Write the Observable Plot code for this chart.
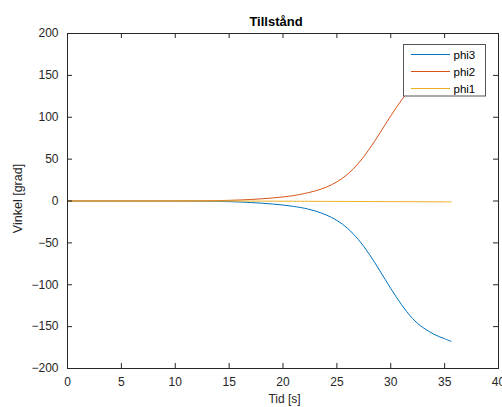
<!DOCTYPE html>
<html><head><meta charset="utf-8">
<script src="https://cdn.jsdelivr.net/npm/d3@7"></script>
<script src="https://cdn.jsdelivr.net/npm/@observablehq/plot@0.6"></script>
<style>body{margin:0;background:#fff;}</style>
</head><body><div id="chart"></div>
<script>
const time = [0, 2, 4, 6, 8, 10, 12, 14, 15, 16, 17, 18, 19, 20, 21, 22, 22.5, 23, 23.5, 24, 24.5, 25, 25.5, 26, 26.5, 27, 27.5, 28, 28.5, 29, 29.5, 30, 30.5, 31, 31.5, 32, 32.5, 33, 33.5, 34, 34.5, 35, 35.6];
const phi3 = [0, 0, 0, 0, 0, -0.05, -0.2, -0.5, -0.8, -1.2, -1.8, -2.6, -3.6, -4.8, -6.5, -8.7, -10.2, -12.0, -14.1, -16.6, -19.6, -23.2, -27.5, -32.7, -38.9, -46.1, -54.3, -63.4, -73.2, -83.5, -94.0, -104.4, -114.4, -123.8, -132.4, -140.0, -146.2, -151.2, -155.4, -159.0, -162.0, -164.5, -167.5];
const phi2 = [0, 0, 0, 0, 0, 0.05, 0.2, 0.5, 0.8, 1.2, 1.8, 2.6, 3.6, 4.8, 6.5, 9.0, 10.4, 12.1, 14.1, 16.5, 19.4, 22.8, 27.0, 32.0, 38.0, 45.0, 53.0, 61.8, 71.3, 81.3, 91.5, 101.6, 111.3, 120.4, 128.7, 136.0, 142.0, 147.0, 151.0, 154.3, 157.0, 159.5, 162.4];
const phi1 = [0, 0, 0, 0, 0, 0, 0, 0, 0, -0.05, -0.1, -0.15, -0.2, -0.25, -0.3, -0.35, -0.38, -0.4, -0.43, -0.45, -0.48, -0.5, -0.53, -0.55, -0.58, -0.6, -0.63, -0.65, -0.68, -0.7, -0.73, -0.75, -0.78, -0.8, -0.83, -0.85, -0.88, -0.9, -0.93, -0.95, -0.98, -1.0, -1.05];
const seriesNames = ["phi3", "phi2", "phi1"];
const seriesColors = ["#0072BD", "#D95319", "#EDB120"];
const xTicks = [0, 5, 10, 15, 20, 25, 30, 35, 40];
const yTicks = [-200, -150, -100, -50, 0, 50, 100, 150, 200];
const titleText = "Tillstånd";
const xLabel = "Tid [s]";
const yLabel = "Vinkel [grad]";

const seriesValues = [phi3, phi2, phi1];
const rows = [];
seriesNames.forEach((name, i) => {
  time.forEach((t, j) => rows.push({t, v: seriesValues[i][j], series: name}));
});

const W = 502, H = 407, mL = 67, mR = 4, mT = 33, mB = 39;
const fw = W - mL - mR, fh = H - mT - mB, tl = 5;
const axisColor = "#262626";
const font = "'Liberation Sans', Arial, Helvetica, sans-serif";

const plot = Plot.plot({
  width: W, height: H,
  marginLeft: mL, marginRight: mR, marginTop: mT, marginBottom: mB,
  style: {fontFamily: font, fontSize: "12px", color: axisColor, background: "white", overflow: "visible"},
  x: {domain: [0, 40]},
  y: {domain: [-200, 200]},
  color: {domain: seriesNames, range: seriesColors},
  marks: [
    Plot.line(rows, {x: "t", y: "v", z: "series", stroke: "series", strokeWidth: 1, curve: "catmull-rom"}),
    Plot.tickX(xTicks, {x: d => d, insetTop: fh - tl, stroke: axisColor}),
    Plot.tickX(xTicks, {x: d => d, insetBottom: fh - tl, stroke: axisColor}),
    Plot.tickY(yTicks, {y: d => d, insetRight: fw - tl, stroke: axisColor}),
    Plot.tickY(yTicks, {y: d => d, insetLeft: fw - tl, stroke: axisColor}),
    Plot.frame({stroke: axisColor}),
    Plot.axisX({ticks: xTicks, tickSize: 0, tickPadding: 9, label: null}),
    Plot.axisY({ticks: yTicks, tickSize: 0, tickPadding: 9, label: null})
  ]
});

const svg = d3.select(plot);
svg.append("text").attr("x", 276).attr("y", 25.5).style("text-anchor", "middle")
  .attr("font-family", font).attr("font-size", 13).attr("font-weight", "bold").attr("fill", "#000").text(titleText);
svg.append("text").attr("x", 284.5).attr("y", 402.5).style("text-anchor", "middle")
  .attr("font-family", font).attr("font-size", 12).attr("fill", axisColor).text(xLabel);
svg.append("text").attr("transform", "translate(22,198.5) rotate(-90)").style("text-anchor", "middle")
  .attr("font-family", font).attr("font-size", 12.5).attr("fill", axisColor).text(yLabel);

// legend
const color = plot.scale("color");
const lg = svg.append("g");
lg.append("rect").attr("x", 403.5).attr("y", 44.5).attr("width", 82).attr("height", 51.5)
  .attr("fill", "white").attr("stroke", "#555").attr("stroke-width", 1);
const rowY = [54.5, 71.5, 88.5];
seriesNames.forEach((name, i) => {
  lg.append("line").attr("x1", 411).attr("x2", 450).attr("y1", rowY[i]).attr("y2", rowY[i])
    .attr("stroke", color.apply(name)).attr("stroke-width", 1);
  lg.append("text").attr("x", 453.5).attr("y", rowY[i] + 4).style("text-anchor", "start")
    .attr("font-family", font).attr("font-size", 11.5).attr("fill", "#000").text(name);
});

document.getElementById("chart").append(plot);
</script>
</body></html>
